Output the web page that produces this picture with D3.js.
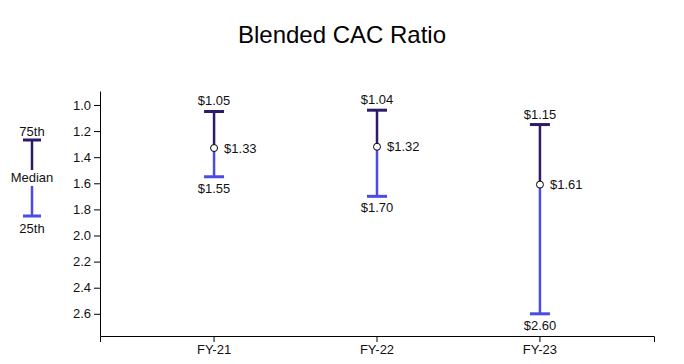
<!DOCTYPE html>
<html>
<head>
<meta charset="utf-8">
<script src="https://cdn.jsdelivr.net/npm/d3@7"></script>
<style>
  body { margin: 0; background: #fff; font-family: "Liberation Sans", Arial, sans-serif; }
</style>
</head>
<body>
<div id="chart"></div>
<script>
// Data
const years = ['FY-21', 'FY-22', 'FY-23'];
const p75 = [1.05, 1.04, 1.15];
const median = [1.33, 1.32, 1.61];
const p25 = [1.55, 1.70, 2.60];
const yTicks = [1.0, 1.2, 1.4, 1.6, 1.8, 2.0, 2.2, 2.4, 2.6];

const colors = { top: '#2d1a69', bottom: '#4b4be6', text: '#111' };

const W = 684, H = 364;
const margin = { top: 91, right: 30, bottom: 28, left: 100 };
const width = W - margin.left - margin.right;
const height = H - margin.top - margin.bottom;

const svg = d3.select('#chart').append('svg')
  .attr('width', W)
  .attr('height', H);

// Title
svg.append('text')
  .attr('x', W / 2)
  .attr('y', 43)
  .attr('text-anchor', 'middle')
  .attr('font-size', '24px')
  .attr('fill', '#000')
  .text('Blended CAC Ratio');

const g = svg.append('g')
  .attr('transform', `translate(${margin.left},${margin.top})`);

const x = d3.scaleBand()
  .domain(years)
  .range([0, width])
  .padding(0.4);

// inverted: lower cost at top
const y = d3.scaleLinear()
  .domain([0.893, 2.77])
  .range([0, height]);

const xAxis = g.append('g')
  .attr('transform', `translate(0,${height})`)
  .call(d3.axisBottom(x).tickSizeOuter(6));
xAxis.selectAll('text').attr('font-size', '13px').attr('fill', colors.text);

const yAxis = g.append('g')
  .call(d3.axisLeft(y).tickValues(yTicks).tickFormat(d3.format('.1f')).tickSizeOuter(0));
yAxis.selectAll('text').attr('font-size', '13px').attr('fill', colors.text);
svg.selectAll('.domain, .tick line').attr('stroke', '#000');
svg.selectAll('.tick text').attr('font-family', '"Liberation Sans", Arial, sans-serif');

const rows = years.map((yr, i) => ({ yr, p75: p75[i], med: median[i], p25: p25[i] }));
const capW = 10;
const fmt = d => '$' + d.toFixed(2);

const box = g.selectAll('.box').data(rows).enter().append('g')
  .attr('transform', d => `translate(${x(d.yr) + x.bandwidth() / 2},0)`);

box.append('line')
  .attr('y1', d => y(d.p75)).attr('y2', d => y(d.med))
  .attr('stroke', colors.top).attr('stroke-width', 2.5);
box.append('line')
  .attr('y1', d => y(d.med)).attr('y2', d => y(d.p25))
  .attr('stroke', colors.bottom).attr('stroke-width', 2.5);
box.append('line')
  .attr('x1', -capW).attr('x2', capW)
  .attr('y1', d => y(d.p75)).attr('y2', d => y(d.p75))
  .attr('stroke', colors.top).attr('stroke-width', 3);
box.append('line')
  .attr('x1', -capW).attr('x2', capW)
  .attr('y1', d => y(d.p25)).attr('y2', d => y(d.p25))
  .attr('stroke', colors.bottom).attr('stroke-width', 3);
box.append('circle')
  .attr('cy', d => y(d.med)).attr('r', 3.5)
  .attr('fill', '#fff').attr('stroke', '#000').attr('stroke-width', 1);

box.append('text')
  .attr('y', d => y(d.p75) - 6)
  .attr('text-anchor', 'middle')
  .attr('font-size', '13px').attr('fill', colors.text)
  .text(d => fmt(d.p75));
box.append('text')
  .attr('y', d => y(d.p25) + 16)
  .attr('text-anchor', 'middle')
  .attr('font-size', '13px').attr('fill', colors.text)
  .text(d => fmt(d.p25));
box.append('text')
  .attr('x', 10)
  .attr('y', d => y(d.med) + 4.5)
  .attr('font-size', '13px').attr('fill', colors.text)
  .text(d => fmt(d.med));

// Legend
const lg = svg.append('g').attr('transform', 'translate(32,0)');
lg.append('line').attr('y1', 140).attr('y2', 170).attr('stroke', colors.top).attr('stroke-width', 2.5);
lg.append('line').attr('x1', -9).attr('x2', 9).attr('y1', 140).attr('y2', 140).attr('stroke', colors.top).attr('stroke-width', 3);
lg.append('line').attr('y1', 186).attr('y2', 216).attr('stroke', colors.bottom).attr('stroke-width', 2.5);
lg.append('line').attr('x1', -9).attr('x2', 9).attr('y1', 216).attr('y2', 216).attr('stroke', colors.bottom).attr('stroke-width', 3);
lg.append('text').attr('y', 136).attr('text-anchor', 'middle').attr('font-size', '13px').attr('fill', colors.text).text('75th');
lg.append('text').attr('y', 182).attr('text-anchor', 'middle').attr('font-size', '13px').attr('fill', colors.text).text('Median');
lg.append('text').attr('y', 233).attr('text-anchor', 'middle').attr('font-size', '13px').attr('fill', colors.text).text('25th');
</script>
</body>
</html>
